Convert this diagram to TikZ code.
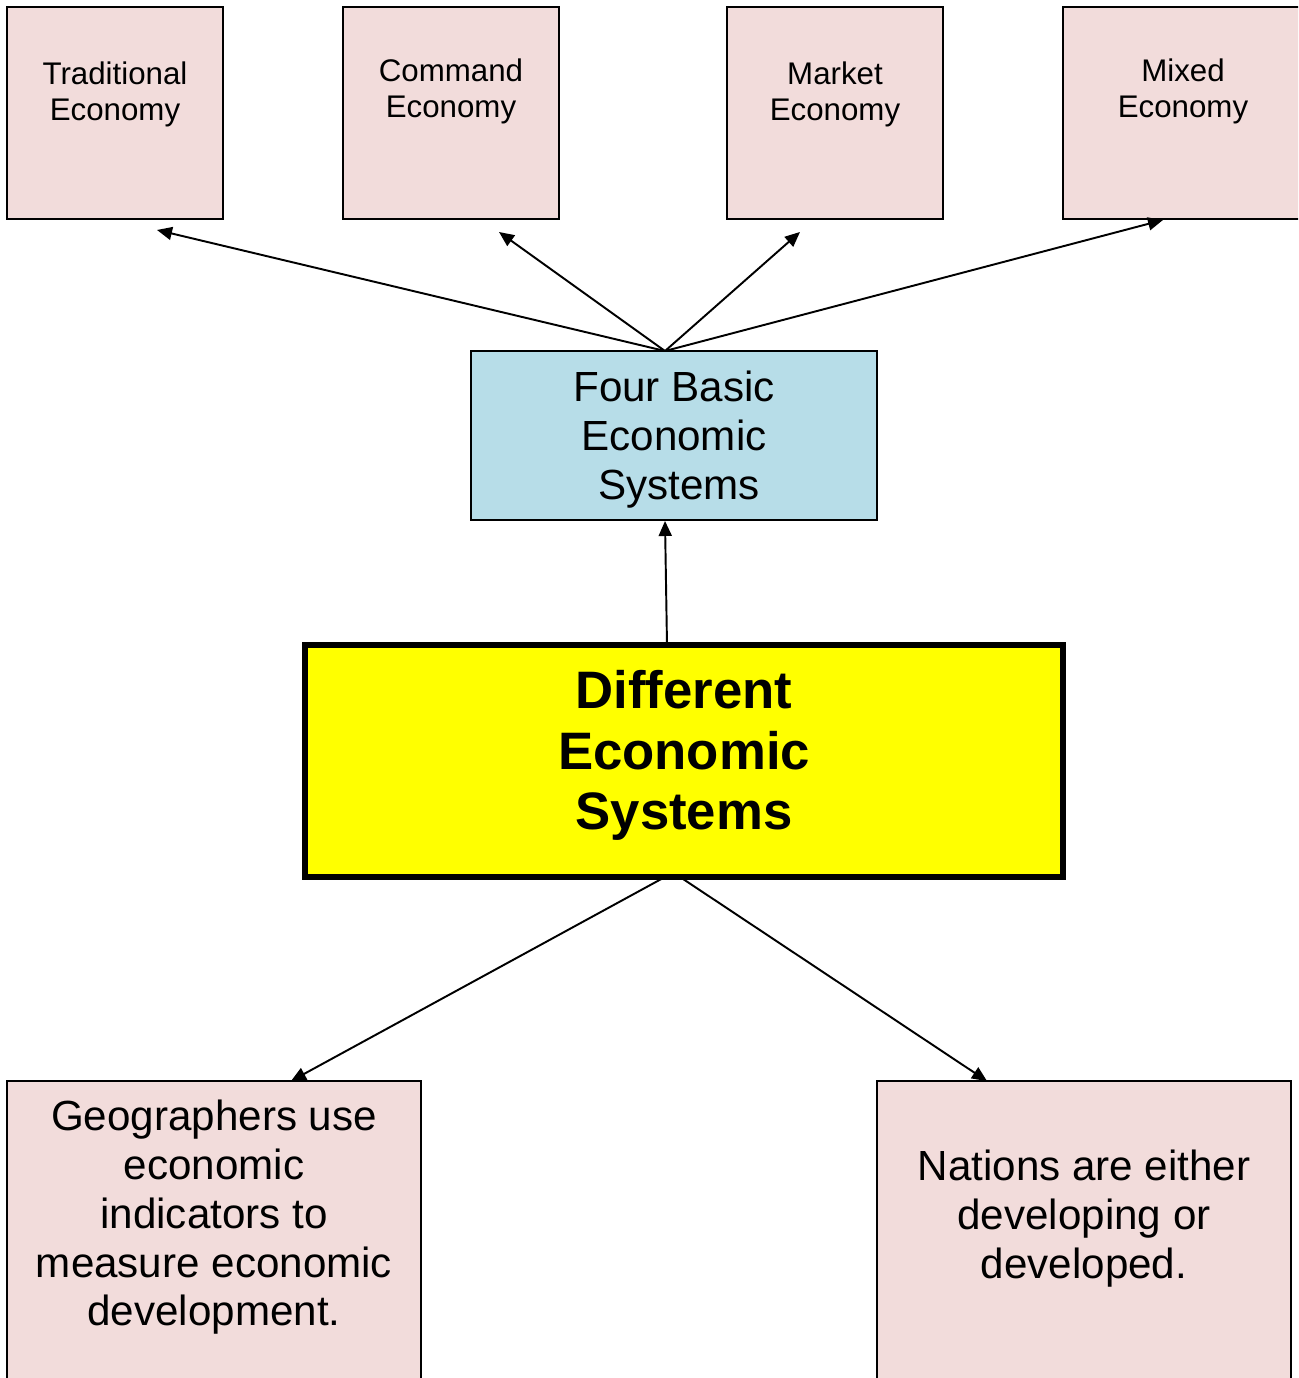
\documentclass[tikz,border=0pt]{standalone}
\usepackage{fontspec}
\setmainfont{Liberation Sans}
\usetikzlibrary{arrows.meta}
\definecolor{boxpink}{HTML}{F2DCDB}
\definecolor{boxblue}{HTML}{B7DDE8}
\definecolor{mainyellow}{RGB}{255,255,0}
% text set at the top of a fixed box: width, height, top gap, text
\newcommand{\toplabel}[4]{\parbox[c][#2][t]{#1}{\centering\vspace*{#3}#4\par}}
\begin{document}
\begin{tikzpicture}[x=0.02cm,y=-0.02cm,
    econ/.style={draw,line width=1.1pt,fill=boxpink,inner sep=0pt,outer sep=0pt,
      font=\fontsize{17.8}{20.4}\selectfont},
    note/.style={econ,font=\fontsize{24}{27.8}\selectfont},
    basic/.style={draw,line width=1.1pt,fill=boxblue,inner sep=0pt,outer sep=0pt,
      font=\fontsize{24}{27.8}\selectfont},
    main/.style={draw,line width=3.4pt,fill=mainyellow,inner sep=0pt,outer sep=0pt,
      font=\bfseries\fontsize{30}{34.6}\selectfont},
    link/.style={line width=1.1pt,-{Triangle[length=0.3cm,width=0.26cm]}}]
  \useasboundingbox (0,0) rectangle (1298,1378);
  \clip (0,0) rectangle (1298,1378);
  % the four systems
  \node[econ] (trad) at (115,113) {\toplabel{4.32cm}{4.24cm}{1.1cm}{Traditional\\Economy}};
  \node[econ] (command) at (451,113) {\toplabel{4.32cm}{4.24cm}{1.04cm}{Command\\Economy}};
  \node[econ] (market) at (835,113) {\toplabel{4.32cm}{4.24cm}{1.1cm}{Market\\Economy}};
  \node[econ] (mixed) at (1183,113) {\toplabel{4.8cm}{4.24cm}{1.04cm}{Mixed\\Economy}};
  \node[basic] (basic) at (674,435.5) {\toplabel{8.12cm}{3.38cm}{0.4cm}{Four Basic\\Economic\\\hspace*{0.2cm}Systems}};
  \node[main] (main) at (684,761) {\toplabel{15.16cm}{4.64cm}{0.5cm}{Different\\Economic\\Systems}};
  \node[note] (geo) at (214,1281) {\toplabel{8.28cm}{8cm}{0.38cm}{Geographers use\\economic\\indicators to\\measure economic\\development.}};
  \node[note] (nations) at (1084,1281) {\toplabel{8.28cm}{8cm}{1.38cm}{Nations are either\\developing or\\developed.}};
  % arrows
  \draw[link] ([shift={(-9,0)}]basic.north) -- ([shift={(42,11)}]trad.south);
  \draw[link] ([shift={(-9,0)}]basic.north) -- ([shift={(48,13)}]command.south);
  \draw[link] ([shift={(-9,0)}]basic.north) -- ([shift={(-35,13)}]market.south);
  \draw[link] ([shift={(-9,0)}]basic.north) -- ([shift={(-20,1)}]mixed.south);
  \draw[link] ([shift={(-17,0)}]main.north) -- ([shift={(-9,1)}]basic.south);
  \draw[link] ([shift={(-19,0)}]main.south) -- ([shift={(77,0)}]geo.north);
  \draw[link] ([shift={(-4,0)}]main.south) -- ([shift={(-97,0)}]nations.north);
\end{tikzpicture}
\end{document}
